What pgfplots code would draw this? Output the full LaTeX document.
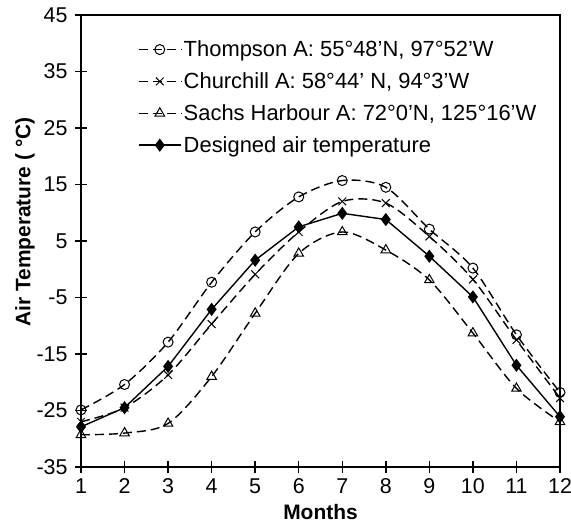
\documentclass[border=0pt]{standalone}
\usepackage{fontspec}
\setmainfont{Liberation Sans}
\usepackage{pgfplots}
\pgfplotsset{compat=1.18}
\begin{document}
\begin{tikzpicture}
\begin{axis}[
 scale only axis, width=479bp, height=452bp,
 xmin=1, xmax=12, ymin=-35, ymax=45,
 xtick={1,...,12}, ytick={-35,-25,...,45},
 tick align=center, xtick pos=bottom, ytick pos=left,
 major tick length=12bp,
 axis line style={line width=1.6bp},
 tick style={line width=1.4bp, black},
 /pgf/number format/assume math mode=true,
 ticklabel style={font=\fontsize{21.5}{21.5}\selectfont},
 yticklabel style={xshift=-4bp},
 xticklabel style={yshift=-2bp},
 xlabel={Months}, ylabel={Air Temperature ( °C)},
 label style={font=\fontsize{21}{21}\selectfont\bfseries},
 ylabel style={yshift=-5bp, xshift=19bp},
 xlabel style={yshift=-4bp},
 legend style={draw=none, fill=none, at={(0.112,0.952)}, anchor=north west,
   font=\fontsize{22}{24}\selectfont, row sep=10.5bp},
 legend cell align=left,
 legend image code/.code={\draw[mark repeat=2,mark phase=2] plot coordinates {(0cm,0cm) (0.75cm,0cm) (1.5cm,0cm)};},
 every axis plot/.append style={line width=1.4bp, black},
]
\coordinate (ll) at (rel axis cs:0,0);
\coordinate (ur) at (rel axis cs:1,1);
\addplot[smooth, dash pattern=on 9bp off 5bp, mark=o, mark size=5bp, mark options={solid, line width=1bp}]
 coordinates {(1,-24.9)(2,-20.4)(3,-12.9)(4,-2.3)(5,6.6)(6,12.8)(7,15.7)(8,14.5)(9,7.1)(10,0.2)(11,-11.6)(12,-21.8)};
\addlegendentry{Thompson A: 55°48'N, 97°52'W}
\addplot[smooth, dash pattern=on 9bp off 5bp, mark=x, mark size=5.5bp, mark options={solid, line width=1bp}]
 coordinates {(1,-27)(2,-24.5)(3,-18.7)(4,-9.7)(5,-0.9)(6,6.6)(7,12.0)(8,11.7)(9,5.8)(10,-1.8)(11,-12.5)(12,-22.8)};
\addlegendentry{Churchill A: 58°44' N, 94°3'W}
\addplot[smooth, dash pattern=on 9bp off 5bp, mark=triangle, mark size=5.5bp, mark options={solid, line width=1bp}]
 coordinates {(1,-29.3)(2,-29.0)(3,-27.3)(4,-19)(5,-7.8)(6,2.8)(7,6.6)(8,3.4)(9,-1.9)(10,-11.3)(11,-21.1)(12,-27)};
\addlegendentry{Sachs Harbour A: 72°0'N, 125°16'W}
\addplot[solid, mark=diamond*, mark size=5.5bp, mark options={solid}]
 coordinates {(1,-27.9)(2,-24.5)(3,-17.2)(4,-7.1)(5,1.6)(6,7.5)(7,9.9)(8,8.8)(9,2.3)(10,-4.9)(11,-17)(12,-26.1)};
\addlegendentry{Designed air temperature}
\end{axis}
\pgfresetboundingbox
\path ([xshift=-81bp,yshift=-61bp]ll) rectangle ([xshift=11bp,yshift=15bp]ur);
\end{tikzpicture}
\end{document}
